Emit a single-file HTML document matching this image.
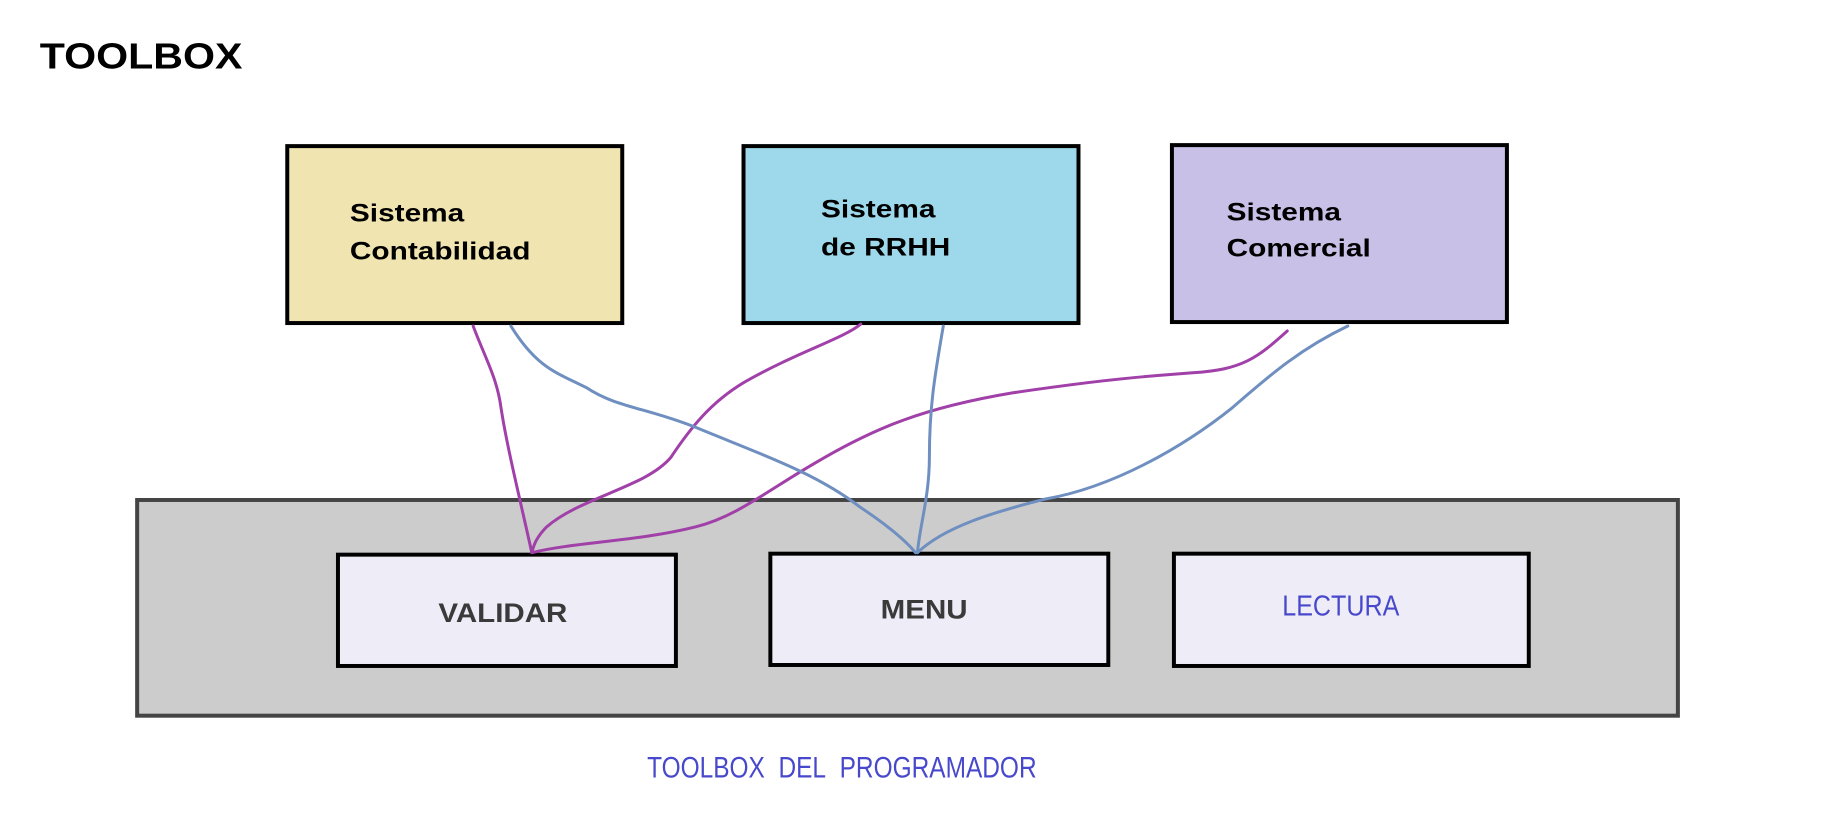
<!DOCTYPE html>
<html><head><meta charset="utf-8"><style>
body{margin:0;width:1823px;height:839px;background:#fff;position:relative;overflow:hidden;font-family:"Liberation Sans",sans-serif}
#w{position:absolute;left:0;top:0;width:1823px;height:839px;transform:scale(0.994);transform-origin:0 0}
.b{position:absolute;box-sizing:border-box;border:4px solid #000}
.t{position:absolute;font-weight:bold;white-space:nowrap;transform-origin:0 50%;line-height:1}
</style></head><body><div id="w">
<div class="t" style="left:40px;top:39px;font-size:36px;transform:scaleX(1.15)">TOOLBOX</div>
<div class="b" style="left:287px;top:145px;width:341px;height:182px;background:#f0e4b0"></div>
<div class="b" style="left:746px;top:145px;width:341px;height:182px;background:#9dd9ea"></div>
<div class="b" style="left:1177px;top:144px;width:341px;height:182px;background:#c8c0e6"></div>
<div class="t" style="left:352px;top:203px;font-size:25px;transform:scaleX(1.2)">Sistema</div>
<div class="t" style="left:352px;top:241px;font-size:25px;transform:scaleX(1.2)">Contabilidad</div>
<div class="t" style="left:826px;top:199px;font-size:25px;transform:scaleX(1.2)">Sistema</div>
<div class="t" style="left:826px;top:237px;font-size:25px;transform:scaleX(1.2)">de RRHH</div>
<div class="t" style="left:1234px;top:202px;font-size:25px;transform:scaleX(1.2)">Sistema</div>
<div class="t" style="left:1234px;top:238px;font-size:25px;transform:scaleX(1.2)">Comercial</div>
<div class="b" style="left:136px;top:501px;width:1554px;height:221px;background:#cccccc;border-color:#444"></div>
<div class="b" style="left:338px;top:556px;width:344px;height:116px;background:#eeedf7"></div>
<div class="b" style="left:773px;top:555px;width:344px;height:116px;background:#eeedf7"></div>
<div class="b" style="left:1179px;top:555px;width:361px;height:117px;background:#eeedf7"></div>
<div class="t" style="left:441px;top:604px;font-size:27px;color:#3a3a3a;transform:scaleX(1.1)">VALIDAR</div>
<div class="t" style="left:886px;top:600px;font-size:27px;color:#3a3a3a;transform:scaleX(1.1)">MENU</div>
<div class="t" style="left:1290px;top:596px;font-size:29px;font-weight:normal;color:#4848cc;transform:scaleX(0.87)">LECTURA</div>
<div class="t" style="left:651px;top:758px;font-size:30px;font-weight:normal;color:#4848cc;transform:scaleX(0.82)">TOOLBOX&nbsp; DEL&nbsp; PROGRAMADOR</div>
<svg width="1823" height="839" style="position:absolute;left:0;top:0" fill="none" stroke-width="3" stroke-linecap="round" stroke-linejoin="round">
<g stroke="#a040a8">
<path d="M476,328 C488,360 500,380 504,410 C510,450 525,510 535,556"/>
<path d="M866,326 C850,340 800,355 748,385 C715,405 695,430 675,460 C650,490 585,500 550,530 C540,540 537,548 535,556"/>
<path d="M1295,333 C1265,360 1250,372 1200,375 C1130,380 1090,385 1020,395 C930,410 880,430 818,467 C770,495 740,520 700,530 C640,545 580,545 535,556"/>
</g>
<g stroke="#6f8fc0">
<path d="M514,328 C540,370 560,375 590,390 C620,410 650,410 700,430 C760,455 820,475 865,510 C895,530 912,545 921,556"/>
<path d="M949,328 C940,380 935,410 935,460 C935,500 925,530 923,556"/>
<path d="M1356,328 C1310,350 1280,375 1240,410 C1190,450 1120,490 1052,502 C1000,515 950,530 923,556"/>
</g>
</svg>
</div></body></html>
